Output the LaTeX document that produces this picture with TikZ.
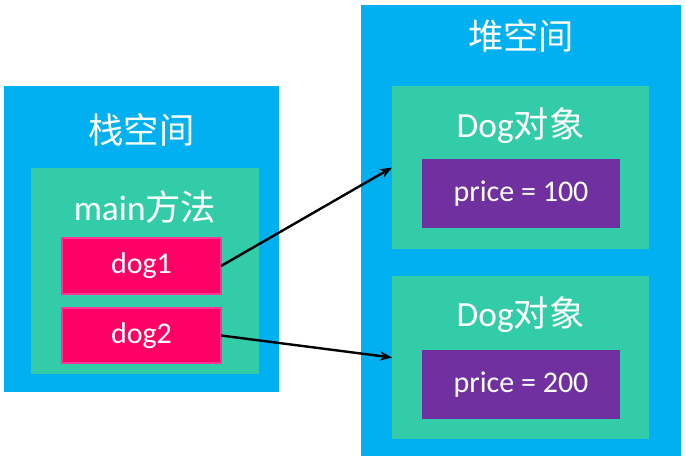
\documentclass[tikz,border=0pt]{standalone}
\usepackage{fontspec}
\setmainfont{Carlito}
\newfontfamily\cjk{Noto Sans CJK SC}
\usetikzlibrary{arrows.meta}
\definecolor{spaceblue}{HTML}{00B0F0}
\definecolor{framegreen}{HTML}{33CCA8}
\definecolor{refpink}{HTML}{FF0066}
\definecolor{refedge}{HTML}{FF3399}
\definecolor{fieldpurple}{HTML}{7030A0}
\tikzset{
    box/.style={anchor=north west,inner sep=0pt,outer sep=0pt},
    space/.style={box,fill=spaceblue},
    frame/.style={box,fill=framegreen},
    refbox/.style={box,fill=refpink,draw=refedge,line width=1.2pt,text=white,font=\fontsize{22.5}{26}\selectfont},
    field/.style={box,fill=fieldpurple,text=white,font=\fontsize{22.5}{26}\selectfont},
    title/.style={text=white,inner sep=0pt,font=\fontsize{26.5}{30}\selectfont},
    link/.style={-{Stealth[length=9pt,width=7pt]},line width=1.8pt},
}

\begin{document}
\begin{tikzpicture}[x=0.75pt,y=-0.75pt]
\useasboundingbox (0,0) rectangle (685,462);
% stack side
\node[space, minimum width=275*0.75pt, minimum height=306*0.75pt] (stack) at (4,86) {};
\node[title] (stacktitle) at (141.5,130) {\cjk 栈空间};
\node[frame, minimum width=228*0.75pt, minimum height=206*0.75pt] (main) at (31,168) {};
\node[title] (maintitle) at (145,207) {main{\cjk 方法}};
\node[refbox, minimum width=159*0.75pt, minimum height=56*0.75pt] (dog1) at (62,238) {dog1};
\node[refbox, minimum width=159*0.75pt, minimum height=55*0.75pt] (dog2) at (62,308) {dog2};
% heap side
\node[space, minimum width=320*0.75pt, minimum height=451*0.75pt] (heap) at (361,5) {};
\node[title] (heaptitle) at (521,36) {\cjk 堆空间};
\node[frame, minimum width=257*0.75pt, minimum height=163*0.75pt] (obj1) at (392,86) {};
\node[title] (obj1title) at (520.5,126) {Dog{\cjk 对象}};
\node[field, minimum width=198*0.75pt, minimum height=69*0.75pt] (price1) at (422,159) {price = 100};
\node[frame, minimum width=257*0.75pt, minimum height=163*0.75pt] (obj2) at (392,276) {};
\node[title] (obj2title) at (520.5,315) {Dog{\cjk 对象}};
\node[field, minimum width=198*0.75pt, minimum height=69*0.75pt] (price2) at (422,350) {price = 200};
% references
\draw[link] (dog1.east) -- (obj1.west);
\draw[link] (dog2.east) -- (obj2.west);
\end{tikzpicture}
\end{document}
